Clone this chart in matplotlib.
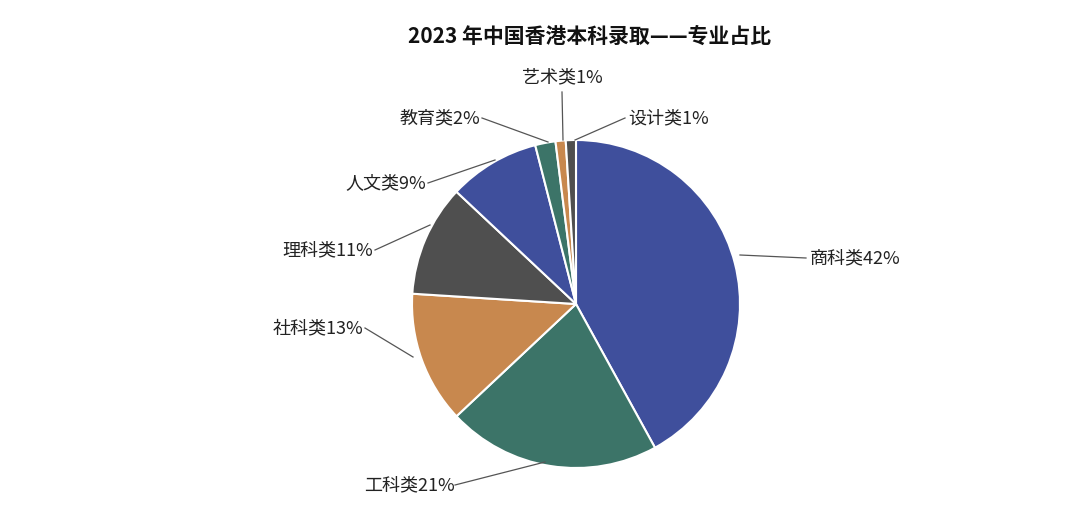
import matplotlib
matplotlib.use("Agg")
import matplotlib.pyplot as plt

categories = ["商科类", "工科类", "社科类", "理科类", "人文类", "教育类", "艺术类", "设计类"]
values = [42, 21, 13, 11, 9, 2, 1, 1]
colors = ["#3f4f9c", "#3c7468", "#c8884e", "#4f4f4f", "#3f4f9c", "#3c7468", "#c8884e", "#4f4f4f"]

plt.rcParams["font.family"] = ["Noto Sans CJK JP", "Noto Sans CJK SC", "Noto Sans CJK TC",
                               "Noto Sans CJK KR", "DejaVu Sans"]
W, H = 1080, 522
fig = plt.figure(figsize=(10.8, 5.22), dpi=100)
ax = fig.add_axes([0, 0, 1, 1])

cx, cy, r = 576, H - 304, 164
ax.pie(values, colors=colors, startangle=90, counterclock=False,
       center=(cx, cy), radius=r, wedgeprops=dict(edgecolor="white", linewidth=1.5),
       frame=True)
ax.set_xlim(0, W)
ax.set_ylim(0, H)
ax.set_aspect("equal")
ax.axis("off")

labels = [
    ((810, 258), "left", (806, 258), (740, 255)),
    ((455, 485), "right", (455, 485), (545, 462)),
    ((363, 328), "right", (365, 328), (413, 357)),
    ((373, 250), "right", (375, 250), (430, 225)),
    ((426, 183), "right", (428, 183), (495, 160)),
    ((480, 118), "right", (482, 118), (548, 142)),
    ((562, 77), "center", (562, 92), (563, 140)),
    ((628, 118), "left", (625, 118), (575, 140)),
]
for (cat, v), (tp, ha, ls, le) in zip(zip(categories, values), labels):
    ax.text(tp[0], H - tp[1], f"{cat}{v}%", ha=ha, va="center", fontsize=13, color="#222222")
    ax.plot([ls[0], le[0]], [H - ls[1], H - le[1]], color="#555555", lw=0.9)

ax.text(590, H - 36, "2023 年中国香港本科录取——专业占比", ha="center", va="center",
        fontsize=15, fontweight="bold", color="#111111")

fig.savefig("out.png", dpi=100, facecolor="white")
